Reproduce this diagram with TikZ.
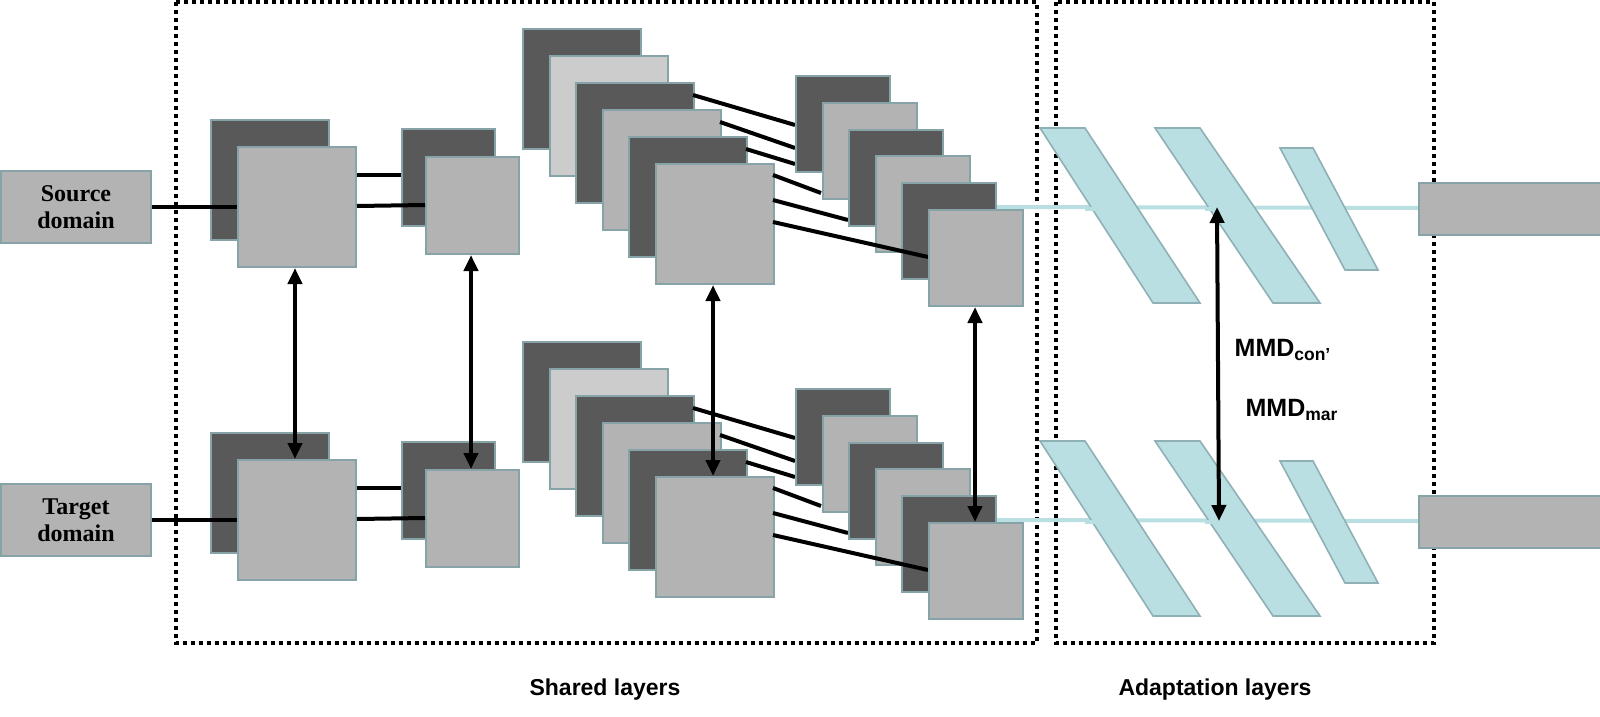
\documentclass[tikz,border=0pt]{standalone}
\usepackage{fontspec}
\usetikzlibrary{arrows.meta}
\setmainfont{Liberation Serif}
\setsansfont{Liberation Sans}
\begin{document}
\begin{tikzpicture}[x=0.5pt,y=-0.5pt,
  sq/.style={draw=bord,line width=1pt,inner sep=0pt,anchor=north west},
  big/.style={sq,minimum width=59pt,minimum height=60pt},
  small/.style={sq,minimum width=47pt,minimum height=48pt},
  conn/.style={line width=2pt,black},
  dbl/.style={line width=2pt,black,{Triangle[length=8pt,width=7pt]}-{Triangle[length=8pt,width=7pt]}},
  cy/.style={fill=cyan1,draw=cyanb,line width=0.8pt},
  cyl/.style={cyanl,line width=2pt},
  lbl/.style={font=\sffamily\bfseries\fontsize{11.5}{13}\selectfont},
  dom/.style={sq,fill=midg,minimum width=75pt,minimum height=36pt,align=center,font=\bfseries\fontsize{12}{13.5}\selectfont}]
\definecolor{darkg}{HTML}{595959}
\definecolor{midg}{HTML}{B3B3B3}
\definecolor{lightg}{HTML}{CCCCCC}
\definecolor{bord}{HTML}{86A3A8}
\definecolor{cyan1}{HTML}{B9DFE3}
\definecolor{cyanb}{HTML}{8FB0B5}
\definecolor{cyanl}{HTML}{B9DFE3}
\useasboundingbox (0,0) rectangle (1600,717);
% dotted frames
\draw[line width=2pt,dotted] (176,2) rectangle (1037,643);
\draw[line width=2pt,dotted] (1056,2) rectangle (1434,643);
\node[lbl] (sh) at (605,690) {Shared layers};
\node[lbl] (ad) at (1215,690) {Adaptation layers};
\foreach \p/\dy/\txt in {s/0/Source\\domain, t/313/Target\\domain}{
  % adaptation layers
  \draw[cyl] (995,207+\dy) -- (1418,208+\dy);
  \fill[cy] (1040,128+\dy) -- (1085,128+\dy) -- (1200,303+\dy) -- (1153,303+\dy) -- cycle;
  \fill[cy] (1155,128+\dy) -- (1200,128+\dy) -- (1320,303+\dy) -- (1273,303+\dy) -- cycle;
  \fill[cy] (1280,148+\dy) -- (1313,148+\dy) -- (1378,270+\dy) -- (1345,270+\dy) -- cycle;
  \draw[cyl] (1085,209+\dy) -- (1127,209+\dy) (1205,209+\dy) -- (1242,209+\dy) (1325,208+\dy) -- (1340,208+\dy);
  \node[sq,fill=midg,minimum width=91pt,minimum height=26pt] (\p out) at (1418,182+\dy) {};
  % domain
  \node[dom] (\p dom) at (0,170+\dy) {\txt};
  % layer 1
  \node[big,fill=darkg] (\p a1) at (210,119+\dy) {};
  \draw[conn] (\p dom.east) -- (237,207+\dy);
  \draw[conn] (328,175+\dy) -- (401,175+\dy);
  \node[big,fill=midg] (\p a2) at (237,146+\dy) {};
  % layer 2
  \node[sq,fill=darkg,minimum width=46.5pt,minimum height=48.5pt] (\p b1) at (401,128+\dy) {};
  \node[sq,fill=midg,minimum width=46.5pt,minimum height=48.5pt] (\p b2) at (425,156+\dy) {};
  \draw[conn] (\p a2.east |- 0,206+\dy) -- (\p b2.west |- 0,205+\dy);
  % stack 3
  \foreach \i/\c in {1/darkg,2/lightg,3/darkg,4/midg,5/darkg,6/midg}{
    \node[big,fill=\c] (\p c\i) at ({522+26.6*(\i-1)},{28+27*(\i-1)+\dy}) {};
  }
  \draw[conn] (693,95+\dy) -- (795,125+\dy);
  \draw[conn] (720,122+\dy) -- (795,148+\dy);
  \draw[conn] (746,149+\dy) -- (795,164+\dy);
  \draw[conn] (773,175+\dy) -- (821,193+\dy);
  \draw[conn] (773,200+\dy) -- (848,220+\dy);
  % stack 4
  \foreach \i/\c in {1/darkg,2/midg,3/darkg,4/midg,5/darkg}{
    \node[small,fill=\c] (\p d\i) at ({795+26.6*(\i-1)},{75+26.8*(\i-1)+\dy}) {};
  }
  \draw[conn] (773,222+\dy) -- (928,257+\dy);
  \node[small,fill=midg] (\p d6) at (928,209+\dy) {};
}
% double arrows
\draw[dbl] (sa2.south -| 295,0) -- (ta2.north -| 295,0);
\draw[dbl] (sb2.south -| 471,0) -- (tb2.north -| 471,0);
\draw[dbl] (sc6.south -| 713,0) -- (tc6.north -| 713,0);
\draw[dbl] (sd6.south -| 975,0) -- (975,522);
\draw[dbl] (1217,207) -- (1219,521);
\node[lbl,font=\sffamily\bfseries\fontsize{12.5}{14}\selectfont] (m1) at (1283,350) {MMD\textsubscript{con’}};
\node[lbl,font=\sffamily\bfseries\fontsize{12.5}{14}\selectfont] (m2) at (1292,410) {MMD\textsubscript{mar}};
\end{tikzpicture}
\end{document}
